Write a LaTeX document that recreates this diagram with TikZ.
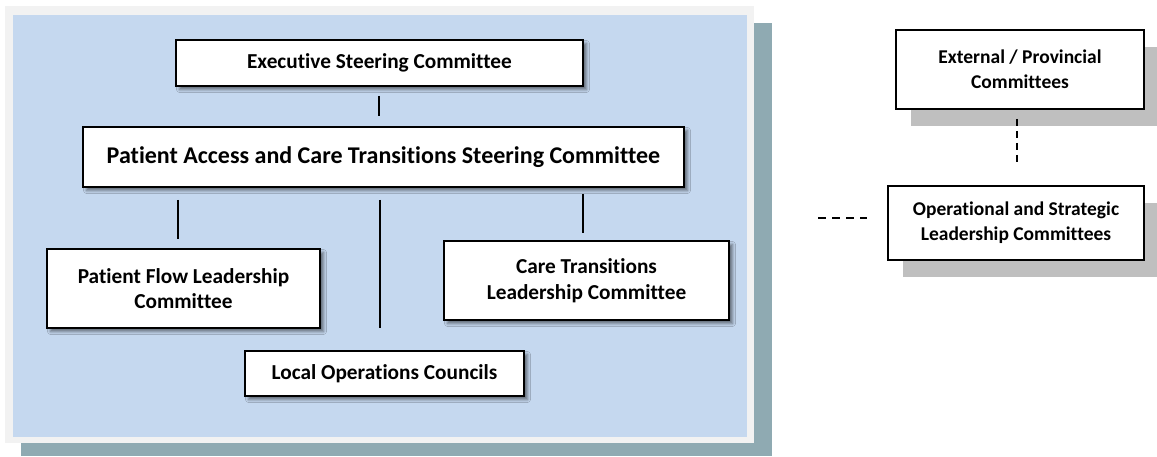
\documentclass[tikz,border=0pt]{standalone}
\usepackage{fontspec}
\setmainfont{Carlito}[Ligatures=NoCommon]
\usetikzlibrary{shadows,shadows.blur}
\definecolor{panelblue}{RGB}{197,216,239}
\definecolor{framegray}{RGB}{242,242,242}
\definecolor{tealshadow}{RGB}{143,170,178}
\definecolor{boxshadow}{RGB}{191,191,191}
\begin{document}
\begin{tikzpicture}[x=1pt,y=-1pt,
  boxfont/.style={font=\bfseries\fontsize{21.3}{25.5}\selectfont},
  extfont/.style={font=\bfseries\fontsize{19.5}{25}\selectfont},
  bigfont/.style={font=\bfseries\fontsize{24}{29}\selectfont},
  orgbox/.style={draw=black, line width=1.8pt, fill=white, align=center, inner sep=0pt, boxfont,
    blur shadow={shadow xshift=3.5pt, shadow yshift=-3.5pt, shadow blur radius=3pt, shadow opacity=50}},
  extbox/.style={draw=black, line width=1.8pt, fill=white, align=center, inner sep=0pt, extfont,
    general shadow={fill=boxshadow, shadow xshift=15pt, shadow yshift=-16.5pt}},
  conn/.style={draw=black, line width=1.4pt},
  dconn/.style={draw=black, line width=1.4pt, dash pattern=on 7pt off 5pt}
]
\useasboundingbox (0,0) rectangle (1157,456);
% panel
\fill[tealshadow] (21,23) rectangle (772,456);
\fill[framegray] (5,6) rectangle (754,443);
\fill[panelblue] (13,15) rectangle (747,437);

% boxes
\node[orgbox, minimum width=407pt, minimum height=46pt] (exec) at (379.5,63) {Executive Steering Committee};
\node[orgbox, bigfont, minimum width=601pt, minimum height=60pt] (pact) at (383.5,157) {Patient Access and Care Transitions Steering Committee};
\node[orgbox, minimum width=273pt, minimum height=79pt] (flow) at (183.5,288.5) {Patient Flow Leadership\\Committee};
\node[orgbox, minimum width=285pt, minimum height=79pt] (care) at (586.5,280.5) {Care Transitions\\Leadership Committee};
\node[orgbox, minimum width=279pt, minimum height=45pt] (local) at (384.5,373.5) {Local Operations Councils};
\node[extbox, minimum width=248pt, minimum height=79pt] (ext) at (1020,69.5) {External / Provincial\\Committees};
\node[extbox, minimum width=256pt, minimum height=74pt] (ops) at (1016,223) {Operational and Strategic\\Leadership Committees};

% connectors
\draw[conn, shorten <=9pt, shorten >=10pt] ([xshift=-0.5pt]exec.south) -- ([xshift=-0.5pt]exec.south |- pact.north);
\draw[conn, shorten <=12pt, shorten >=9pt] ([xshift=-5.5pt]flow.north |- pact.south) -- ([xshift=-5.5pt]flow.north);
\draw[conn, shorten <=12pt, shorten >=22pt] ([xshift=-3.5pt]pact.south) -- ([xshift=-3.5pt]pact.south |- local.north);
\draw[conn, shorten <=6pt, shorten >=7pt] ([xshift=-3.5pt]care.north |- pact.south) -- ([xshift=-3.5pt]care.north);
\draw[dconn, shorten <=9pt, shorten >=19pt] ([xshift=-3pt]ext.south) -- ([xshift=-3pt]ext.south |- ops.north);
\coordinate (dl) at (818,218);
\draw[dconn, dash pattern=on 8pt off 6pt, shorten >=20pt] (dl) -- (dl -| ops.west);
\end{tikzpicture}
\end{document}
